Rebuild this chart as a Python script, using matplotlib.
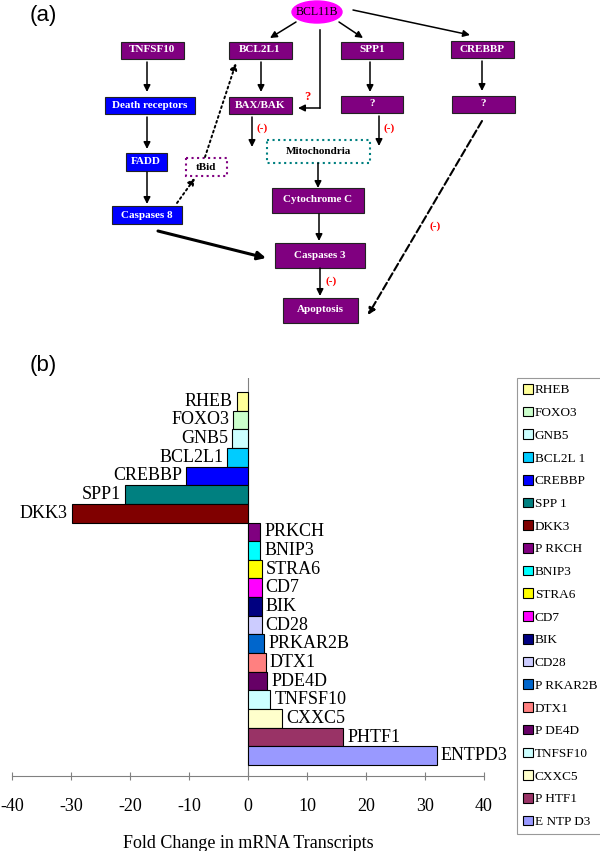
import matplotlib
matplotlib.use('Agg')
import matplotlib.pyplot as plt
from matplotlib.patches import Rectangle, Ellipse, Patch

# ---------------- data (panel b) ----------------
genes = ["RHEB", "FOXO3", "GNB5", "BCL2L1", "CREBBP", "SPP1", "DKK3",
         "PRKCH", "BNIP3", "STRA6", "CD7", "BIK", "CD28", "PRKAR2B",
         "DTX1", "PDE4D", "TNFSF10", "CXXC5", "PHTF1", "ENTPD3"]
fold_change = [-1.9, -2.5, -2.7, -3.5, -10.5, -20.8, -29.9,
               2.1, 2.1, 2.3, 2.3, 2.3, 2.3, 2.7,
               3.0, 3.2, 3.8, 5.7, 16.1, 32.0]
bar_colors = ["#FFFF99", "#CCFFCC", "#CCFFFF", "#00CCFF", "#0000FF", "#008080", "#800000",
              "#800080", "#00FFFF", "#FFFF00", "#FF00FF", "#000080", "#CCCCFF", "#0066CC",
              "#FF8080", "#660066", "#CCFFFF", "#FFFFCC", "#993366", "#9999FF"]
legend_labels = ["RHEB", "FOXO3", "GNB5", "BCL2L 1", "CREBBP", "SPP 1", "DKK3",
                 "P RKCH", "BNIP3", "STRA6", "CD7", "BIK", "CD28", "P RKAR2B",
                 "DTX1", "P DE4D", "TNFSF10", "CXXC5", "P HTF1", "E NTP D3"]
xticks = [-40, -30, -20, -10, 0, 10, 20, 30, 40]

SERIF = "Liberation Serif"
SANS = "Liberation Sans"

W, H = 600, 851
fig = plt.figure(figsize=(6, 8.51), dpi=100)

# ---------------- panel a: diagram (pixel layout) ----------------
axd = fig.add_axes([0, 0, 1, 1])
axd.set_xlim(0, W)
axd.set_ylim(H, 0)
axd.axis('off')

PURPLE = "#800080"
BLUE = "#0000FF"

# label, cx, cy, w, h, style
nodes = [
    ("TNFSF10", 152, 50, 63, 17, "purple"),
    ("BCL2L1", 260, 50, 63, 17, "purple"),
    ("SPP1", 372, 50, 62, 17, "purple"),
    ("CREBBP", 482, 49, 63, 17, "purple"),
    ("Death receptors", 150, 105, 90, 17, "blue"),
    ("BAX/BAK", 260, 105, 63, 17, "purple"),
    ("?", 372, 104, 62, 17, "purple"),
    ("?", 483, 104, 63, 17, "purple"),
    ("Mitochondria", 318, 151, 103, 23, "teal"),
    ("FADD", 146, 162, 41, 18, "blue"),
    ("tBid", 206, 167, 41, 18, "dotpurple"),
    ("Caspases 8", 147, 215, 70, 18, "blue"),
    ("Cytochrome C", 318, 200, 92, 25, "purple"),
    ("Caspases 3", 320, 255, 90, 25, "purple"),
    ("Apoptosis", 320, 310, 75, 25, "purple"),
]
for lab, cx, cy, w, h, st in nodes:
    if st in ("purple", "blue"):
        fc = PURPLE if st == "purple" else BLUE
        axd.add_patch(Rectangle((cx - w / 2, cy - h / 2), w, h, facecolor=fc,
                                edgecolor="#222222", lw=0.8))
        axd.text(cx, cy, lab, ha='center', va='center', color='white',
                 fontsize=8, fontweight='bold', family=SERIF)
    else:
        ec = "#008080" if st == "teal" else PURPLE
        axd.add_patch(Rectangle((cx - w / 2, cy - h / 2), w, h, facecolor='white',
                                edgecolor=ec, lw=1.5, ls=':'))
        axd.text(cx, cy, lab, ha='center', va='center', color='black',
                 fontsize=8, fontweight='bold', family=SERIF)

axd.add_patch(Ellipse((317, 12), 50, 22, facecolor="#FF00FF", edgecolor="#FF00FF"))
axd.text(317, 12, "BCL11B", ha='center', va='center', fontsize=8.5, family=SERIF)


def arrow(p0, p1, ls='-', lw=1.1, ms=10):
    axd.annotate("", xy=p1, xytext=p0,
                 arrowprops=dict(arrowstyle='-|>', color='black', lw=lw, ls=ls,
                                 mutation_scale=ms, shrinkA=0, shrinkB=0))


arrow((296, 22), (270, 38))
arrow((339, 22), (363, 38))
arrow((353, 10), (470, 35))
axd.plot([320, 320], [30, 108], color='black', lw=1.1)
arrow((320, 108), (298, 108))
axd.text(307, 97, "?", color='red', fontsize=9, fontweight='bold', family=SERIF,
         ha='center', va='center')

arrow((147, 62), (147, 92))
arrow((147, 117), (147, 149))
arrow((147, 172), (147, 204))
arrow((261, 62), (261, 92))
arrow((370, 62), (370, 92))
arrow((482, 61), (482, 91))
arrow((252, 117), (252, 147))
arrow((379, 116), (379, 146))
arrow((318, 163), (318, 188))
arrow((319, 214), (319, 241))
arrow((320, 268), (320, 296))
arrow((158, 231), (266, 258), lw=2.2, ms=12)
arrow((177, 203), (195, 178), ls=':', lw=1.4)
arrow((205, 157), (236, 63), ls=':', lw=1.4)
arrow((482, 121), (368, 315), ls='--', lw=1.5)

for x, y in [(262, 128), (389, 128), (331, 281), (435, 226)]:
    axd.text(x, y, "(-)", color='red', fontsize=8, fontweight='bold', family=SERIF,
             ha='center', va='center')

fig.text(43 / W, 1 - 15 / H, "(a)", fontsize=16, family=SANS, ha='center', va='center')
fig.text(43 / W, 1 - 365 / H, "(b)", fontsize=16, family=SANS, ha='center', va='center')

# ---------------- panel b: bar chart ----------------
ax = fig.add_axes([12 / W, (H - 776) / H, 472 / W, 398 / H])
ax.patch.set_alpha(0)
ypos = list(range(len(genes)))
ax.axvline(0, color='#808080', lw=0.8, zorder=0)
ax.barh(ypos, fold_change, height=1.0, color=bar_colors, edgecolor='black',
        linewidth=0.8, zorder=2)
for g, v, y in zip(genes, fold_change, ypos):
    ax.annotate(g, (v, y), xytext=(-3 if v < 0 else 3, 0), textcoords='offset points',
                ha='right' if v < 0 else 'left', va='center', fontsize=13, family=SERIF)
ax.set_xlim(-40, 40)
ax.set_ylim(20.09, -1.25)
ax.set_yticks([])
ax.set_xticks(xticks)
ax.set_xticklabels([str(t) for t in xticks], family=SERIF, fontsize=13)
for s in ("top", "left", "right"):
    ax.spines[s].set_visible(False)
ax.spines['bottom'].set_color('#808080')
ax.spines['bottom'].set_linewidth(0.8)
ax.tick_params(axis='x', direction='inout', length=6, color='#808080', pad=13)
ax.set_xlabel("Fold Change in mRNA Transcripts", family=SERIF, fontsize=13, labelpad=14)

handles = [Patch(facecolor=c, edgecolor='black', lw=0.8) for c in bar_colors]
leg = fig.legend(handles, legend_labels, loc='upper left',
                 bbox_to_anchor=(517 / W, 1 - 378 / H), bbox_transform=fig.transFigure,
                 frameon=True, fancybox=False, edgecolor='#808080',
                 prop={'family': SERIF, 'size': 9.5}, handlelength=0.75, handleheight=0.75,
                 handletextpad=0.15, labelspacing=0.78, borderpad=0.45, borderaxespad=0)
leg.get_frame().set_linewidth(0.8)

fig.savefig("out.png", dpi=100)
